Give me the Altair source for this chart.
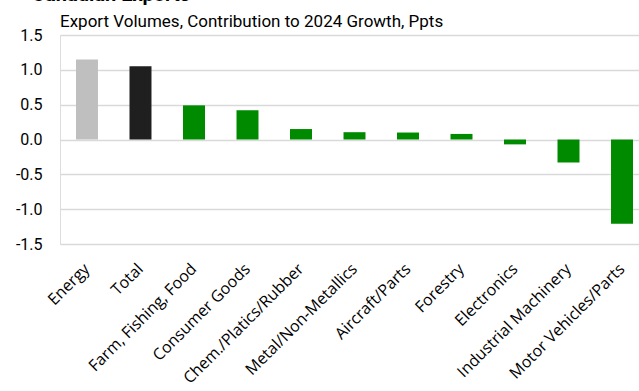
import altair as alt
import pandas as pd

categories = ["Energy", "Total", "Farm, Fishing, Food", "Consumer Goods",
              "Chem./Platics/Rubber", "Metal/Non-Metallics", "Aircraft/Parts",
              "Forestry", "Electronics", "Industrial Machinery", "Motor Vehicles/Parts"]
values = [1.15, 1.05, 0.49, 0.42, 0.15, 0.105, 0.10, 0.08, -0.07, -0.33, -1.21]
groups = ["Energy", "Total", "Sector", "Sector", "Sector", "Sector", "Sector",
          "Sector", "Sector", "Sector", "Sector"]
y_ticks = [-1.5, -1.0, -0.5, 0.0, 0.5, 1.0, 1.5]
title_text = "Canadian Exports"
subtitle_text = "Export Volumes, Contribution to 2024 Growth, Ppts"

df = pd.DataFrame({"cat": categories, "val": values, "grp": groups})

bars = alt.Chart(df).mark_bar().encode(
    x=alt.X("cat:N", sort=categories,
            scale=alt.Scale(range=[0, 589], paddingInner=0.589, paddingOuter=0.299),
            axis=alt.Axis(title=None, labelAngle=-45, labelAlign="right",
                          labelBaseline="middle", labelFont="Open Sans",
                          labelFontSize=16, labelColor="#000000", ticks=False,
                          domain=False, labelPadding=22, labelLimit=0,
                          labelOverlap=False)),
    y=alt.Y("val:Q", scale=alt.Scale(domain=[-1.5, 1.5], nice=False),
            axis=alt.Axis(title=None, values=y_ticks,
                          labelExpr="replace(format(datum.value, '.1f'), '\u2212', '-')",
                          labelFont="Roboto", labelFontSize=16, labelColor="#000000",
                          ticks=False, domain=False, labelPadding=18,
                          gridColor="#d9d9d9", gridWidth=1.5)),
    color=alt.Color("grp:N", scale=alt.Scale(domain=["Energy", "Total", "Sector"],
                                             range=["#bfbfbf", "#1f1f1f", "#008a00"]),
                    legend=None),
)

title_df = pd.DataFrame({"t": [title_text]})
sub_df = pd.DataFrame({"t": [subtitle_text]})

title = alt.Chart(title_df).mark_text(align="left", baseline="alphabetic",
                                       font="Roboto", fontSize=20, fontWeight="bold",
                                       color="#000000").encode(
    x=alt.value(-28), y=alt.value(-34), text="t:N")
subtitle = alt.Chart(sub_df).mark_text(align="left", baseline="alphabetic",
                                        font="Roboto", fontSize=17,
                                        color="#000000").encode(
    x=alt.value(0), y=alt.value(-8), text="t:N")

chart = alt.layer(bars, title, subtitle).properties(
    width=579, height=209,
    autosize=alt.AutoSizeParams(type="none"),
    padding={"left": 60, "top": 35, "right": 0, "bottom": 147},
).configure_view(stroke=None).configure(background="white")

chart.save("out.html", embed_options={"renderer": "svg", "actions": False})
